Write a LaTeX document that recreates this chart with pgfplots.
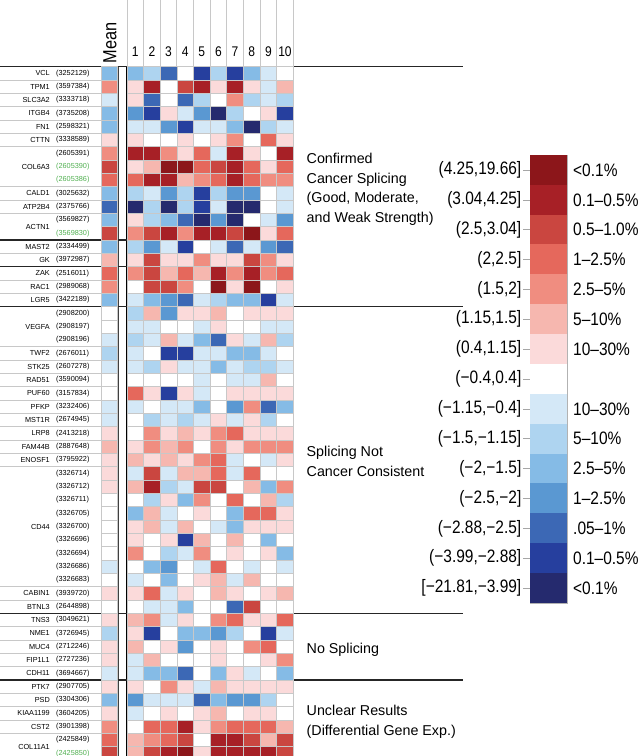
\documentclass[border=0pt]{standalone}
\usepackage{fontspec}
\setmainfont{Liberation Sans}
\newfontfamily\narrowfont[FakeStretch=0.86]{Liberation Sans}
\usepackage{pgfplots}
\pgfplotsset{compat=1.18}
\usepackage{pgfplotstable}

\definecolor{R7}{RGB}{140,22,26}
\definecolor{R6}{RGB}{167,32,38}
\definecolor{R5}{RGB}{202,70,64}
\definecolor{R4}{RGB}{229,104,92}
\definecolor{R3}{RGB}{240,141,128}
\definecolor{R2}{RGB}{246,183,175}
\definecolor{R1}{RGB}{251,218,218}
\definecolor{B1}{RGB}{212,232,247}
\definecolor{B2}{RGB}{174,212,240}
\definecolor{B3}{RGB}{133,187,230}
\definecolor{B4}{RGB}{90,152,210}
\definecolor{B5}{RGB}{60,104,181}
\definecolor{B6}{RGB}{38,63,158}
\definecolor{B7}{RGB}{37,42,110}
\definecolor{gridgray}{RGB}{200,200,200}
\definecolor{idgreen}{RGB}{80,175,80}

\pgfdeclareplotmark{cell}{\pgfpathrectangle{\pgfqpoint{-8.315pt}{-6.6667pt}}{\pgfqpoint{16.63pt}{13.3333pt}}\pgfusepathqfillstroke}
\pgfdeclareplotmark{mcell}{\pgfpathrectangle{\pgfqpoint{-8pt}{-6.6667pt}}{\pgfqpoint{16pt}{13.3333pt}}\pgfusepathqfillstroke}
\pgfdeclareplotmark{lcell}{\pgfpathrectangle{\pgfqpoint{-18.5pt}{-15.1pt}}{\pgfqpoint{37pt}{30.2pt}}\pgfusepathqfill}

\pgfplotsset{
  hclasses/.style={scatter, only marks, point meta=explicit symbolic,
    scatter/classes={R7={fill=R7},R6={fill=R6},R5={fill=R5},R4={fill=R4},
      R3={fill=R3},R2={fill=R2},R1={fill=R1},W={fill=white},
      B1={fill=B1},B2={fill=B2},B3={fill=B3},B4={fill=B4},
      B5={fill=B5},B6={fill=B6},B7={fill=B7}}},
}

\newcommand{\rowfont}{\fontsize{7.3}{8}\selectfont}
\newcommand{\grpfont}{\fontsize{14.3}{19.5}\selectfont}
\newcommand{\legfont}{\narrowfont\fontsize{18}{20}\selectfont}
\newcommand{\colfont}{\narrowfont\fontsize{14}{16}\selectfont}
\newcommand{\meanfont}{\narrowfont\fontsize{19}{20}\selectfont}

\newcommand{\glab}[2]{\node[anchor=east,font=\rowfont,inner sep=0pt] at (axis cs:50,{66.667+13.333*(#1-0.5)}) {#2};}
\newcommand{\ilab}[2]{\node[anchor=west,font=\rowfont,inner sep=0pt] at (axis cs:56,{66.667+13.333*(#1-0.5)}) {(#2)};}
\newcommand{\ilabg}[2]{\node[anchor=west,font=\rowfont,inner sep=0pt,text=idgreen] at (axis cs:56,{66.667+13.333*(#1-0.5)}) {(#2)};}
\newcommand{\legrow}[3]{%
  \draw[gray!70,line width=0.6pt] (axis cs:523,{155+29.87*(#1-0.5)}) -- (axis cs:530,{155+29.87*(#1-0.5)});
  \node[anchor=east,font=\legfont,inner sep=0pt] at (axis cs:521.5,{155+29.87*(#1-0.5)}) {#2};
  \node[anchor=west,font=\legfont,inner sep=0pt] at (axis cs:573,{155+29.87*(#1-0.5)}) {#3};}

\pgfplotstableread{
row m c1 c2 c3 c4 c5 c6 c7 c8 c9 c10
1 B3 B3 B2 B5 W B6 B2 B6 B3 B1 W
2 R3 R1 R6 W R5 R6 R1 R6 R1 B1 R2
3 B1 R1 B5 W B5 B2 W R3 B2 B1 B2
4 B3 B4 B6 R1 B1 B4 B7 B2 W R1 B6
5 B3 B1 B1 B4 B6 B1 B1 B3 B7 B2 B1
6 R1 R1 W W R1 W R1 R3 W R4 R1
7 R3 R6 R6 R3 R1 R4 B1 R6 R1 W R6
8 R5 R1 R2 R7 R7 R4 R5 R6 R4 R1 R4
9 R4 R4 R6 R6 R2 R3 R4 R6 R4 R3 R3
10 B3 B2 B1 B4 B2 B6 B2 B4 B4 W B1
11 B5 B7 B2 B7 B2 B6 B1 B7 B7 W B1
12 B3 R1 B2 B3 B5 B7 B4 B7 W B1 B4
13 R5 R3 R5 R6 R3 R6 R6 R5 R7 R1 R4
14 B3 B2 B4 B1 B6 W B1 B5 B1 B4 B5
15 R2 R1 R5 R1 R1 R3 R1 R1 R5 R3 R1
16 R4 R3 R5 R2 R4 R2 R6 R3 R6 R3 R4
17 R3 W R5 R5 R3 W R7 R1 R7 W R1
18 B3 B1 B3 B4 B5 B1 B2 B3 B3 B6 B1
19 W B2 R2 B4 R1 R1 R2 W R1 R1 R1
20 W B1 B1 W W B1 R1 W W B1 B1
21 B1 B2 B1 R2 B1 B3 B5 R1 B1 R2 B2
22 B2 B1 W B6 B6 B1 B1 B3 B3 B1 W
23 B1 B1 B2 R1 B1 B1 B3 B1 B2 B2 B1
24 W W W W W B1 W B1 B1 R2 W
25 W R4 R1 B6 R1 B1 W R1 R1 R1 R1
26 B1 B1 W B1 B1 B3 W B4 R3 B5 B3
27 B1 W B2 B1 B2 B1 R1 B1 R1 B2 W
28 R1 W R3 R1 R2 R1 R3 R4 R1 R1 R1
29 R2 R1 R3 R2 R3 W R3 R1 R3 R3 R3
30 R1 R2 R1 R2 R1 R3 R4 B1 W B1 R1
31 R1 B1 R5 B1 R2 R2 R4 B1 R4 W W
32 R1 R2 R6 B2 B1 R5 R5 W R2 B3 R3
33 W W B2 R1 B3 R3 W R4 W R2 B2
34 W B3 R2 B1 W R1 W B3 R4 R4 R1
35 W R1 R2 B1 R2 W B1 B3 R1 R1 R1
36 W R1 W R1 B6 R2 W R2 W B3 W
37 W R3 W B2 B1 R3 W R1 W R1 B3
38 B1 W B3 B4 W B1 R4 W B1 W B1
39 W B1 W B3 W R1 R2 B1 R2 W W
40 R1 R1 R4 B1 R1 W R2 R1 W R1 R2
41 W W B1 B1 B3 W W B5 R5 W W
42 R1 R2 R3 B1 R1 W R3 R4 R1 R1 R4
43 B2 R1 B6 W B3 B3 B4 B2 W B6 B1
44 R1 R2 W R1 B4 W R1 W R3 R4 W
45 R1 B1 R2 W W W R1 W W R1 R3
46 B1 B1 B3 B3 B5 W B3 R1 B1 W B3
47 R1 R1 W R3 R1 B1 R2 R1 R1 R1 R1
48 B3 B4 B1 B1 B1 B5 B3 B4 B4 B2 W
49 R1 B1 W R1 W R1 R2 W R1 R1 W
50 R3 W R4 R4 R6 R1 R3 R4 R4 R4 R2
51 R4 R2 R3 R4 R5 W R6 R6 R5 R2 R5
52 R5 R2 R5 R6 R7 R1 R6 R6 R6 R6 R5
}\heat

\pgfplotstableread{
i c
1 R7
2 R6
3 R5
4 R4
5 R3
6 R2
7 R1
8 W
9 B1
10 B2
11 B3
12 B4
13 B5
14 B6
15 B7
}\legtab

\begin{document}
\begin{tikzpicture}
\useasboundingbox (0,0) rectangle (643pt,756pt);
\begin{axis}[at={(0,0)}, anchor=south west, width=643pt, height=756pt,
  scale only axis, xmin=0, xmax=643, ymin=0, ymax=756, y dir=reverse, hide axis]

% heatmap cells
\addplot[hclasses, mark=mcell, mark options={draw=gridgray,line width=0.6pt}]
  table[x expr={109}, y expr={66.667+13.333*(\thisrow{row}-0.5)}, meta=m]{\heat};
\pgfplotsinvokeforeach{1,...,10}{
\addplot[hclasses, mark=cell, mark options={draw=gridgray,line width=0.6pt}]
  table[x expr={127+16.63*(#1-0.5)}, y expr={66.667+13.333*(\thisrow{row}-0.5)}, meta=c#1]{\heat};
}

% colour key
\addplot[hclasses, mark=lcell]
  table[x expr={548.5}, y expr={155+29.87*(\thisrow{i}-0.5)}, meta=c]{\legtab};
\draw[gray!60,line width=0.6pt] (axis cs:530,155) rectangle (axis cs:567,603.05);

% header grid lines
\pgfplotsinvokeforeach{0,...,10}{
  \draw[gridgray,line width=0.8pt] (axis cs:{127+16.63*#1},0) -- (axis cs:{127+16.63*#1},66.667);
}
\pgfplotsinvokeforeach{1,...,10}{
  \node[anchor=base,font=\colfont,inner sep=0pt] at (axis cs:{127+16.63*(#1-0.5)},56.7) {#1};
}
\node[rotate=90,anchor=base west,font=\meanfont,inner sep=0pt] at (axis cs:116.3,63.3) {Mean};

% label-area separators
\pgfplotsinvokeforeach{1,2,3,4,5,6,9,10,11,14,16,17,21,22,23,24,25,26,27,28,29,30,39,40,42,43,44,45,47,48,49,50}{
  \draw[gridgray,line width=0.7pt] (axis cs:0,{66.667+13.333*#1}) -- (axis cs:101,{66.667+13.333*#1});
}

% vertical lines
\draw[black,line width=1pt] (axis cs:101,66.667) -- (axis cs:101,756);
\draw[black!75,line width=2.2pt] (axis cs:117.5,66.667) -- (axis cs:117.5,756);
\draw[black,line width=1.2pt] (axis cs:126.3,66.667) -- (axis cs:126.3,756);
\draw[black,line width=1.2pt] (axis cs:293.3,66.667) -- (axis cs:293.3,756);

% group lines
\draw[black!85,line width=1.6pt] (axis cs:0,66.667) -- (axis cs:463,66.667);
\draw[black!85,line width=1.6pt] (axis cs:0,240) -- (axis cs:293.3,240);
\draw[black!85,line width=1.6pt] (axis cs:0,266.667) -- (axis cs:293.3,266.667);
\draw[black!85,line width=1.6pt] (axis cs:0,306.667) -- (axis cs:463,306.667);
\draw[black!85,line width=1.6pt] (axis cs:0,613.333) -- (axis cs:463,613.333);
\draw[black!85,line width=1.6pt] (axis cs:0,680) -- (axis cs:463,680);

% row labels
\glab{1}{VCL}\ilab{1}{3252129}
\glab{2}{TPM1}\ilab{2}{3597384}
\glab{3}{SLC3A2}\ilab{3}{3333718}
\glab{4}{ITGB4}\ilab{4}{3735208}
\glab{5}{FN1}\ilab{5}{2598321}
\glab{6}{CTTN}\ilab{6}{3338589}
\ilab{7}{2605391}
\glab{8}{COL6A3}\ilabg{8}{2605390}
\ilabg{9}{2605386}
\glab{10}{CALD1}\ilab{10}{3025632}
\glab{11}{ATP2B4}\ilab{11}{2375766}
\glab{12.5}{ACTN1}\ilab{12}{3569827}
\ilabg{13}{3569830}
\glab{14}{MAST2}\ilab{14}{2334499}
\glab{15}{GK}\ilab{15}{3972987}
\glab{16}{ZAK}\ilab{16}{2516011}
\glab{17}{RAC1}\ilab{17}{2989068}
\glab{18}{LGR5}\ilab{18}{3422189}
\ilab{19}{2908200}
\glab{20}{VEGFA}\ilab{20}{2908197}
\ilab{21}{2908196}
\glab{22}{TWF2}\ilab{22}{2676011}
\glab{23}{STK25}\ilab{23}{2607278}
\glab{24}{RAD51}\ilab{24}{3590094}
\glab{25}{PUF60}\ilab{25}{3157834}
\glab{26}{PFKP}\ilab{26}{3232406}
\glab{27}{MST1R}\ilab{27}{2674945}
\glab{28}{LRP8}\ilab{28}{2413218}
\glab{29}{FAM44B}\ilab{29}{2887648}
\glab{30}{ENOSF1}\ilab{30}{3795922}
\ilab{31}{3326714}
\ilab{32}{3326712}
\ilab{33}{3326711}
\ilab{34}{3326705}
\glab{35}{CD44}\ilab{35}{3326700}
\ilab{36}{3326696}
\ilab{37}{3326694}
\ilab{38}{3326686}
\ilab{39}{3326683}
\glab{40}{CABIN1}\ilab{40}{3939720}
\glab{41}{BTNL3}\ilab{41}{2644898}
\glab{42}{TNS3}\ilab{42}{3049621}
\glab{43}{NME1}\ilab{43}{3726945}
\glab{44}{MUC4}\ilab{44}{2712246}
\glab{45}{FIP1L1}\ilab{45}{2727236}
\glab{46}{CDH11}\ilab{46}{3694667}
\glab{47}{PTK7}\ilab{47}{2907705}
\glab{48}{PSD}\ilab{48}{3304306}
\glab{49}{KIAA1199}\ilab{49}{3604205}
\glab{50}{CST2}\ilab{50}{3901398}
\glab{51.5}{COL11A1}\ilab{51}{2425849}
\ilabg{52}{2425850}

% group labels
\node[anchor=base west,font=\grpfont,inner sep=0pt] at (axis cs:306.5,163.3) {Confirmed};
\node[anchor=base west,font=\grpfont,inner sep=0pt] at (axis cs:306.5,183) {Cancer Splicing};
\node[anchor=base west,font=\grpfont,inner sep=0pt] at (axis cs:306.5,202.7) {(Good, Moderate,};
\node[anchor=base west,font=\grpfont,inner sep=0pt] at (axis cs:306.5,222.3) {and Weak Strength)};
\node[anchor=base west,font=\grpfont,inner sep=0pt] at (axis cs:306.5,456.7) {Splicing Not};
\node[anchor=base west,font=\grpfont,inner sep=0pt] at (axis cs:306.5,476.3) {Cancer Consistent};
\node[anchor=base west,font=\grpfont,inner sep=0pt] at (axis cs:306.5,653.3) {No Splicing};
\node[anchor=base west,font=\grpfont,inner sep=0pt] at (axis cs:306.5,715.3) {Unclear Results};
\node[anchor=base west,font=\grpfont,inner sep=0pt] at (axis cs:306.5,735) {(Differential Gene Exp.)};

% key labels
\legrow{1}{(4.25,19.66]}{<0.1\%}
\legrow{2}{(3.04,4.25]}{0.1–0.5\%}
\legrow{3}{(2.5,3.04]}{0.5–1.0\%}
\legrow{4}{(2,2.5]}{1–2.5\%}
\legrow{5}{(1.5,2]}{2.5–5\%}
\legrow{6}{(1.15,1.5]}{5–10\%}
\legrow{7}{(0.4,1.15]}{10–30\%}
\legrow{8}{(−0.4,0.4]}{}
\legrow{9}{(−1.15,−0.4]}{10–30\%}
\legrow{10}{(−1.5,−1.15]}{5–10\%}
\legrow{11}{(−2,−1.5]}{2.5–5\%}
\legrow{12}{(−2.5,−2]}{1–2.5\%}
\legrow{13}{(−2.88,−2.5]}{.05–1\%}
\legrow{14}{(−3.99,−2.88]}{0.1–0.5\%}
\legrow{15}{[−21.81,−3.99]}{<0.1\%}

\end{axis}
\end{tikzpicture}
\end{document}
